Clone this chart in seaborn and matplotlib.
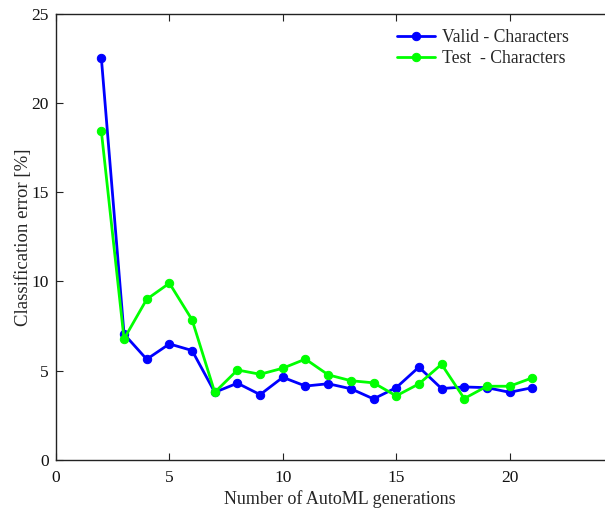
import matplotlib
matplotlib.use("Agg")
import matplotlib.pyplot as plt
import seaborn as sns
import pandas as pd

generations = list(range(2, 22))
valid_err = [22.5, 7.05, 5.64, 6.5, 6.13, 3.79, 4.3, 3.66, 4.63, 4.14, 4.27,
             3.99, 3.42, 4.05, 5.2, 4.0, 4.09, 4.05, 3.79, 4.05]
test_err = [18.4, 6.78, 9.0, 9.9, 7.85, 3.79, 5.04, 4.8, 5.14, 5.65, 4.77,
            4.44, 4.32, 3.59, 4.26, 5.36, 3.44, 4.13, 4.13, 4.6]
series_names = ["Valid - Characters", "Test  - Characters"]
series_colors = ["#0000ff", "#00ff00"]
x_ticks = [0, 5, 10, 15, 20]
y_ticks = [0, 5, 10, 15, 20, 25]

sns.set_theme(style="ticks")
plt.rcParams["font.family"] = ["Liberation Serif", "DejaVu Serif"]
plt.rcParams["mathtext.fontset"] = "stix"

fig = plt.figure(figsize=(6.05, 5.08), dpi=100)
ax = fig.add_axes([56 / 605, 48 / 508, 567 / 605, 446.5 / 508])

for vals, name, col in zip([valid_err, test_err], series_names, series_colors):
    df = pd.DataFrame({"gen": generations, "err": vals})
    sns.lineplot(data=df, x="gen", y="err", color=col, marker="o",
                 markersize=6, markeredgecolor=col, linewidth=2.0,
                 label=name, ax=ax)

ax.set_xlim(0, 25)
ax.set_ylim(0, 25)
ax.set_xticks(x_ticks)
ax.set_yticks(y_ticks)
ax.tick_params(direction="in", length=5, width=0.8, labelsize=12.5,
               top=True, right=True, colors="#222222", labelcolor="#111111")
ax.tick_params(axis="x", pad=7)
ax.tick_params(axis="y", pad=5)
for s in ax.spines.values():
    s.set_linewidth(1.0)
    s.set_color("#222222")

ax.set_xlabel("Number of AutoML generations", fontsize=13, labelpad=3)
ax.set_ylabel("Classification error [%]", fontsize=13.5, labelpad=0)

leg = ax.legend(loc="upper left", bbox_to_anchor=(397 / 605, 1 - 29 / 508),
                bbox_transform=fig.transFigure, frameon=False, fontsize=12.7,
                handlelength=2.15, handletextpad=0.4, borderpad=0,
                borderaxespad=0, labelspacing=0.22)

fig.savefig("out.png", dpi=100)
